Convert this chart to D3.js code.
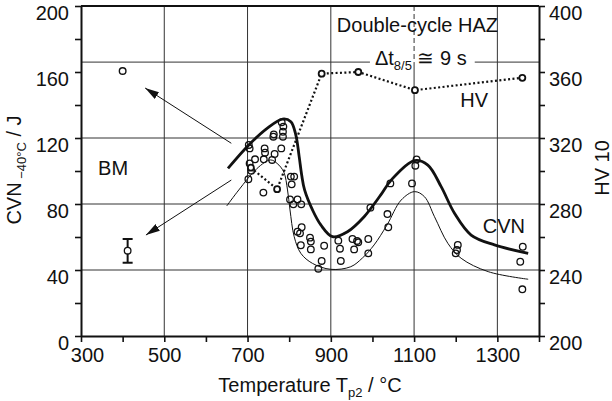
<!DOCTYPE html>
<html>
<head>
<meta charset="utf-8">
<script src="https://cdn.jsdelivr.net/npm/d3@7"></script>
<style>
    body { margin: 0; background: #fff; }
    svg text { font-family: "Liberation Sans", Arial, sans-serif; fill: #111; }
</style>
</head>
<body>
<svg id="chart"></svg>
<script>
// CVN at -40 °C (J) of the double-cycle HAZ vs second peak temperature Tp2 (°C)
const cvnPoints = [
    [782, 129.5], [786, 126.9], [785, 123.8], [785, 120.8], [763, 122.2], [762, 120.8],
    [703, 115.8], [705, 113.7], [741, 113.7], [742, 111.1], [781, 113.7], [765, 110.3],
    [739, 107.1], [759, 106.7], [718, 107.1], [705, 104.6], [709, 100.2], [702, 95],
    [804, 96.6], [812, 96.6], [806, 91.9], [738, 86.9], [802, 82.8], [820, 82.8],
    [810, 79.8], [829, 79.8], [830, 65.9], [820, 63.2], [826, 62.2], [828, 55],
    [850, 59.6], [852, 57.2], [852, 52.5], [884, 54.7], [878, 45.5], [870, 40.8],
    [918, 57.8], [922, 52.9], [924, 45.5], [952, 58.8], [963, 57.6], [966, 56.8],
    [956, 52.5], [990, 58.8], [990, 50.1], [995, 77.8], [1106, 107], [1103, 103.2],
    [1095, 92.5], [1043, 92.5], [1036, 73.9], [1038, 65.9], [1205, 55.2], [1203, 52.1],
    [1200, 50.1], [1361, 54.1], [1355, 45], [1360, 28.3]
];

// thick line (CVN trend)
const cvnUpper = [
    [653, 101.6], [703, 115.8], [747, 125.9], [784, 131.5], [804, 129.9], [816, 121.8],
    [824, 108.7], [830, 97.6], [837, 88.5], [856, 76.4], [876, 67.3], [904, 60.2],
    [940, 63.2], [980, 72.3], [1020, 85.5], [1045, 94.5], [1101, 106.3], [1133, 103.6],
    [1165, 90.5], [1197, 74.4], [1237, 61.2], [1293, 55.2], [1374, 50.1]
];

// thin line (lower bound)
const cvnLower = [
    [650, 78.8], [679, 88.5], [723, 101.6], [755, 106.7], [771, 104.6], [787, 99.4],
    [796, 88.5], [802, 76.4], [812, 60.2], [828, 50.1], [856, 44], [900, 40.4],
    [948, 42], [976, 47.3], [1004, 55.2], [1035, 67.3], [1069, 82.4], [1101, 87.5],
    [1125, 84.4], [1149, 72.3], [1181, 56.2], [1213, 47.1], [1278, 39], [1374, 34.4]
];

// hardness HV 10
const hvPoints = [[708, 302], [771, 289], [878, 359], [966, 360], [1102, 349], [1360, 356.5]];

// base material
const bmHV = [400, 360.6];
const bmCVN = [412, 51.7, 44.4, 58.8]; // T, mean, min, max

const xTickLabels = [300, 500, 700, 900, 1100, 1300];
const cvnTickLabels = [0, 40, 80, 120, 160, 200];
const hvTickLabels = [200, 240, 280, 320, 360, 400];
const xGrid = [500, 700, 900, 1100, 1300];
const yGrid = [40, 80, 120, 166];

const W = 612, H = 401;
const margin = { top: 6, left: 81, right: 73, bottom: 65 };

const svg = d3.select("#chart").attr("width", W).attr("height", H);

const x = d3.scaleLinear().domain([300, 1400]).range([margin.left, W - margin.right]);
const y = d3.scaleLinear().domain([0, 200]).range([H - margin.bottom, margin.top]);
const yHV = d3.scaleLinear().domain([200, 400]).range([H - margin.bottom, margin.top]);

const x0 = x.range()[0], x1 = x.range()[1];
const y0 = y.range()[0], y1 = y.range()[1];

// ---- grid
const grid = svg.append("g").attr("stroke", "#333").attr("stroke-width", 1);
grid.selectAll(".vg")
    .data(xGrid)
    .join("line")
    .attr("x1", d => x(d)).attr("x2", d => x(d))
    .attr("y1", y0)
    .attr("y2", d => d == 1100 ? y(yGrid[3]) : y1);
// dashed part of 1100 line above the top grid line
grid.append("line")
    .attr("x1", x(1100)).attr("x2", x(1100))
    .attr("y1", y1).attr("y2", y(yGrid[3]))
    .attr("stroke-dasharray", "5,3");

grid.selectAll(".hg")
    .data(yGrid.slice(0, 3))
    .join("line")
    .attr("x1", x0).attr("x2", x1)
    .attr("y1", d => y(d)).attr("y2", d => y(d));

// ---- labels in plot
const dt = svg.append("text")
    .attr("x", x(1006)).attr("y", y(164.2))
    .attr("font-size", 20);
dt.append("tspan").text("\u0394t");
dt.append("tspan").attr("font-size", 13).attr("dy", 5).text("8/5");
dt.append("tspan").attr("dy", -5).text(" \u2245 9 s");

// top grid line broken around the label
const bb = dt.node().getBBox();
grid.selectAll(".hg2")
    .data([[x0, bb.x - 5], [bb.x + bb.width + 8, x1]])
    .join("line")
    .attr("x1", d => d[0]).attr("x2", d => d[1])
    .attr("y1", y(yGrid[3])).attr("y2", y(yGrid[3]));

svg.append("text").attr("x", x(914.5)).attr("y", y(184.2)).attr("font-size", 20).text("Double-cycle HAZ");
svg.append("text").attr("x", x(341)).attr("y", y(97.6)).attr("font-size", 20).text("BM");
svg.append("text").attr("x", x(1265)).attr("y", y(62.4)).attr("font-size", 20).text("CVN");
svg.append("text").attr("x", x(1211)).attr("y", yHV(338.8)).attr("font-size", 20).text("HV");

// ---- curves
const line = d3.line()
    .x(d => x(d[0]))
    .y(d => y(d[1]))
    .curve(d3.curveCatmullRom.alpha(0.5));

svg.append("path").datum(cvnLower)
    .attr("d", line)
    .attr("fill", "none").attr("stroke", "#111").attr("stroke-width", 1);

svg.append("path").datum(cvnUpper)
    .attr("d", line)
    .attr("fill", "none").attr("stroke", "#111").attr("stroke-width", 2.8);

const hvLine = d3.line().x(d => x(d[0])).y(d => yHV(d[1]));
svg.append("path").datum(hvPoints)
    .attr("d", hvLine)
    .attr("fill", "none").attr("stroke", "#111")
    .attr("stroke-width", 2.2).attr("stroke-dasharray", "2,2.4");

// ---- points
svg.append("g").selectAll("circle")
    .data(cvnPoints)
    .join("circle")
    .attr("cx", d => x(d[0])).attr("cy", d => y(d[1]))
    .attr("r", 3.3)
    .attr("fill", "none").attr("stroke", "#111").attr("stroke-width", 1.3);

svg.append("g").selectAll("circle")
    .data(hvPoints)
    .join("circle")
    .attr("cx", d => x(d[0])).attr("cy", d => yHV(d[1]))
    .attr("r", 3)
    .attr("fill", "#fff").attr("stroke", "#111").attr("stroke-width", 1.8);

// base material
svg.append("circle")
    .attr("cx", x(bmHV[0])).attr("cy", yHV(bmHV[1]))
    .attr("r", 3.3).attr("fill", "none").attr("stroke", "#111").attr("stroke-width", 1.4);

const eb = svg.append("g").attr("stroke", "#111").attr("stroke-width", 2);
eb.append("line").attr("x1", x(bmCVN[0])).attr("x2", x(bmCVN[0])).attr("y1", y(bmCVN[2])).attr("y2", y(bmCVN[3]));
eb.selectAll(".cap")
    .data([bmCVN[2], bmCVN[3]])
    .join("line")
    .attr("x1", x(bmCVN[0]) - 5).attr("x2", x(bmCVN[0]) + 5)
    .attr("y1", d => y(d)).attr("y2", d => y(d));
eb.append("circle")
    .attr("cx", x(bmCVN[0])).attr("cy", y(bmCVN[1]))
    .attr("r", 3.3).attr("fill", "#fff").attr("stroke-width", 1.3);

// arrows pointing to the BM values
svg.append("defs").append("marker")
    .attr("id", "arrow")
    .attr("markerUnits", "userSpaceOnUse")
    .attr("viewBox", "0 0 14 8")
    .attr("refX", 14).attr("refY", 4)
    .attr("markerWidth", 14).attr("markerHeight", 8)
    .attr("orient", "auto")
    .append("path").attr("d", "M0,0 L14,4 L0,8 Z").attr("fill", "#111");

const arrows = [[[661, 116.8], [454, 150.3]], [[661, 94.5], [456, 61.2]]];
svg.append("g").selectAll("line")
    .data(arrows)
    .join("line")
    .attr("x1", d => x(d[0][0])).attr("y1", d => y(d[0][1]))
    .attr("x2", d => x(d[1][0])).attr("y2", d => y(d[1][1]))
    .attr("stroke", "#111").attr("stroke-width", 1)
    .attr("marker-end", "url(#arrow)");

// ---- axes
function styleAxis(g) {
    g.attr("font-size", 20).attr("font-family", null);
    g.select(".domain").attr("stroke", "#111").attr("stroke-width", 2);
    g.selectAll(".tick line").attr("stroke", "#111").attr("stroke-width", 1.6);
    g.selectAll(".tick text").attr("fill", "#111");
}

const xAxis = d3.axisBottom(x)
    .tickValues(d3.range(300, 1401, 100))
    .tickSize(6).tickSizeOuter(0)
    .tickFormat(d => xTickLabels.includes(d) ? d : "");
svg.append("g")
    .attr("transform", `translate(0,${y0})`)
    .call(xAxis)
    .call(styleAxis)
    .call(g => g.selectAll(".tick text").attr("y", 12))
    .call(g => g.selectAll(".tick text").filter(d => d == 300).attr("dx", 6));

const yAxis = d3.axisLeft(y)
    .tickValues(d3.range(0, 201, 20))
    .tickSize(6).tickSizeOuter(0)
    .tickFormat(d => cvnTickLabels.includes(d) ? d : "");
svg.append("g")
    .attr("transform", `translate(${x0},0)`)
    .call(yAxis)
    .call(styleAxis)
    .call(g => g.selectAll(".tick text").attr("x", -12).attr("y", 7));

const hvAxis = d3.axisRight(yHV)
    .tickValues(d3.range(200, 401, 20))
    .tickSize(6).tickSizeOuter(0)
    .tickFormat(d => hvTickLabels.includes(d) ? d : "");
svg.append("g")
    .attr("transform", `translate(${x1},0)`)
    .call(hvAxis)
    .call(styleAxis)
    .call(g => g.selectAll(".tick text").attr("x", 10).attr("y", 7));

// top frame
svg.append("line")
    .attr("x1", x0).attr("x2", x1)
    .attr("y1", y1).attr("y2", y1)
    .attr("stroke", "#111").attr("stroke-width", 1.8);

// ---- axis titles
const xt = svg.append("text")
    .attr("x", (x0 + x1) / 2).attr("y", 392)
    .attr("text-anchor", "middle").attr("font-size", 20);
xt.append("tspan").text("Temperature T");
xt.append("tspan").attr("font-size", 13).attr("dy", 5).text("p2");
xt.append("tspan").attr("dy", -5).text(" / \u00b0C");

const yt = svg.append("text")
    .attr("transform", "translate(21,170) rotate(-90)")
    .attr("text-anchor", "middle").attr("font-size", 20);
yt.append("tspan").text("CVN");
yt.append("tspan").attr("font-size", 13).attr("dy", 5).text(" \u221240\u00b0C");
yt.append("tspan").attr("dy", -5).text(" / J");

svg.append("text")
    .attr("transform", "translate(609,168) rotate(-90)")
    .attr("text-anchor", "middle").attr("font-size", 20)
    .text("HV 10");
</script>
</body>
</html>
